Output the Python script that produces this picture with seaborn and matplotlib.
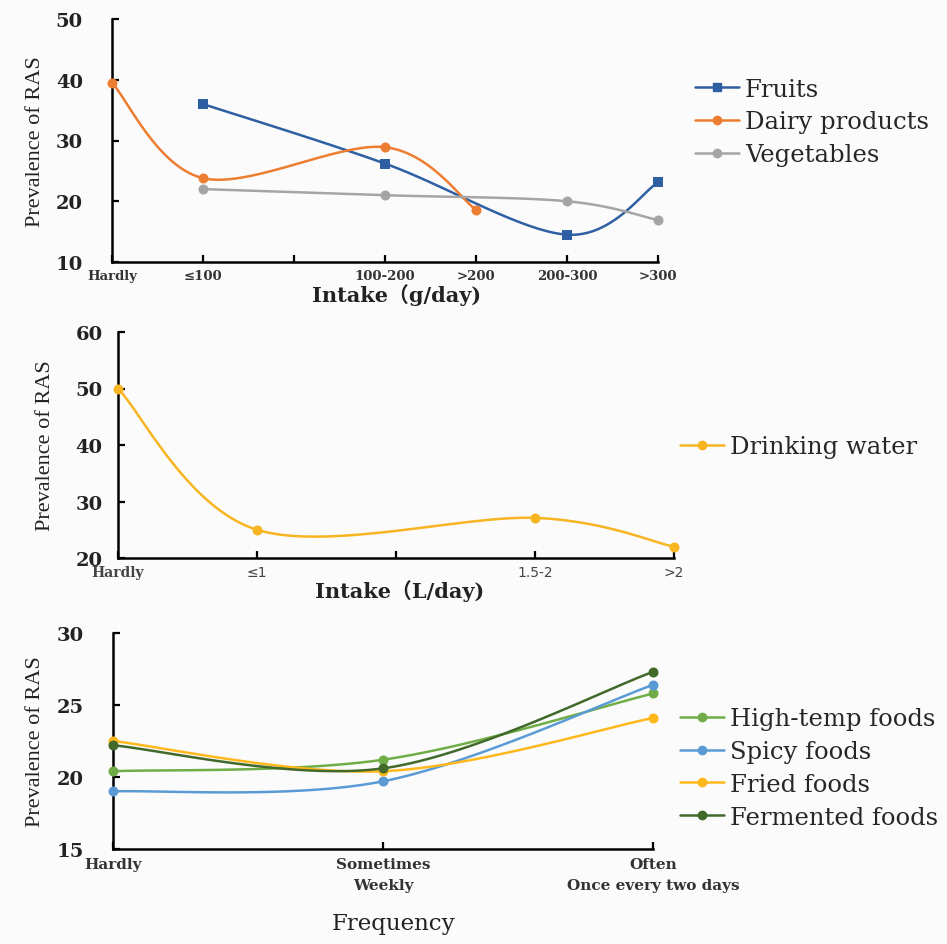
import numpy as np
import pandas as pd
import matplotlib
matplotlib.use("Agg")
import matplotlib.pyplot as plt
from matplotlib.lines import Line2D
import seaborn as sns

# -----------------------------
# Data
# -----------------------------
# Panel 1: food intake (g/day)
intake_g_labels = ['Hardly', '≤100', '', '100-200', '>200', '200-300', '>300']
fruits_pos = [1, 3, 5, 6]
fruits_vals = [36.0, 26.2, 14.5, 23.1]
dairy_pos = [0, 1, 3, 4]
dairy_vals = [39.5, 23.8, 28.9, 18.6]
veg_pos = [1, 3, 5, 6]
veg_vals = [22.0, 21.0, 20.0, 16.9]

# Panel 2: drinking water (L/day)
intake_l_labels = ['Hardly', '≤1', '', '1.5-2', '>2']
water_pos = [0, 1, 3, 4]
water_vals = [50.0, 25.0, 27.1, 22.0]

# Panel 3: frequency of special foods
freq_labels = ['Hardly', 'Sometimes\nWeekly', 'Often\nOnce every two days']
freq_pos = [0, 1, 2]
hightemp_vals = [20.4, 21.2, 25.8]
spicy_vals = [19.0, 19.7, 26.4]
fried_vals = [22.5, 20.4, 24.1]
fermented_vals = [22.2, 20.6, 27.3]

# colours (Excel-like palette)
C_FRUIT = '#2E5FA3'
C_DAIRY = '#ED7D31'
C_VEG = '#A5A5A5'
C_WATER = '#F7B522'
C_HIGH = '#70AD47'
C_SPICY = '#5B9BD5'
C_FRIED = '#FFB81C'
C_FERM = '#41692A'


def smooth(xs, ys, n=40):
    # Excel-style smoothed line (cubic Bezier with Catmull-Rom control points)
    p = np.column_stack([xs, ys]).astype(float)
    p_ext = np.vstack([p[0], p, p[-1]])
    out = []
    for i in range(len(p) - 1):
        a, b, c, d = p_ext[i], p_ext[i + 1], p_ext[i + 2], p_ext[i + 3]
        c1 = b + (c - a) / 6
        c2 = c - (d - b) / 6
        t = np.linspace(0, 1, n)[:, None]
        seg = (1 - t) ** 3 * b + 3 * (1 - t) ** 2 * t * c1 + 3 * (1 - t) * t ** 2 * c2 + t ** 3 * c
        out.append(seg if i == 0 else seg[1:])
    out = np.vstack(out)
    return pd.DataFrame({'x': out[:, 0], 'y': out[:, 1]})


def draw_series(ax, xs, ys, color, marker='o', ms=52):
    curve = smooth(xs, ys)
    sns.lineplot(data=curve, x='x', y='y', sort=False, color=color, lw=1.8,
                 ax=ax, legend=False, clip_on=False)
    sns.scatterplot(x=xs, y=ys, color=color, marker=marker, s=ms, edgecolor=color,
                    linewidth=0, ax=ax, legend=False, clip_on=False, zorder=5)


def style_axes(ax, ylim, yticks, ypad):
    ax.set_ylim(*ylim)
    ax.set_yticks(yticks)
    sns.despine(ax=ax)
    for s in ['left', 'bottom']:
        ax.spines[s].set_linewidth(1.8)
        ax.spines[s].set_color('black')
    ax.tick_params(axis='both', direction='in', length=5, width=1.6, color='black')
    ax.tick_params(axis='y', pad=ypad, labelsize=14)
    for t in ax.get_yticklabels():
        t.set_fontweight('bold')
        t.set_family('DejaVu Serif')
        t.set_color('#222222')
    ax.set_facecolor('none')


sns.set_theme(style='ticks')
plt.rcParams['font.family'] = ['DejaVu Serif', 'Noto Sans CJK SC']

BG = '#fbfbfb'
fig = plt.figure(figsize=(9.47, 9.45), dpi=100, facecolor=BG)
W, H = 947, 945

def add_axes(l, r, t, b):
    return fig.add_axes([l / W, 1 - b / H, (r - l) / W, (b - t) / H])

leg_kw = dict(frameon=False, borderpad=0, borderaxespad=0, handlelength=1.8,
              handletextpad=0.25, labelspacing=0.4, loc='center left',
              bbox_transform=fig.transFigure,
              prop={'family': 'DejaVu Serif', 'size': 17.5})

# -----------------------------
# Panel 1
# -----------------------------
ax1 = add_axes(112, 658, 20, 263)
draw_series(ax1, fruits_pos, fruits_vals, C_FRUIT, marker='s', ms=46)
draw_series(ax1, dairy_pos, dairy_vals, C_DAIRY)
draw_series(ax1, veg_pos, veg_vals, C_VEG)
ax1.set_xlim(0, 6)
ax1.set_xticks(range(len(intake_g_labels)))
ax1.set_xticklabels(intake_g_labels, fontsize=9.5, fontweight='bold', color='#333333')
ax1.tick_params(axis='x', pad=5)
style_axes(ax1, (10, 50), [10, 20, 30, 40, 50], 21)
ax1.set_xlabel('Intake（g/day)', fontsize=15, fontweight='bold',
               family=['DejaVu Serif', 'Noto Sans CJK SC'], color='#222222')
ax1.xaxis.set_label_coords(0.522, -0.088)
ax1.set_ylabel('Prevalence of RAS', fontsize=16, family='Liberation Serif', va='center',
               color='#222222')
ax1.yaxis.set_label_coords(-0.141, 0.5)
h1 = [Line2D([], [], color=C_FRUIT, marker='s', ms=6, lw=1.8),
      Line2D([], [], color=C_DAIRY, marker='o', ms=6, lw=1.8),
      Line2D([], [], color=C_VEG, marker='o', ms=6, lw=1.8)]
ax1.legend(h1, ['Fruits', 'Dairy products', 'Vegetables'],
           bbox_to_anchor=(695 / W, 1 - 123 / H), **leg_kw)

# -----------------------------
# Panel 2
# -----------------------------
ax2 = add_axes(118, 674, 333, 559)
draw_series(ax2, water_pos, water_vals, C_WATER)
ax2.set_xlim(0, 4)
ax2.set_xticks(range(len(intake_l_labels)))
ax2.set_xticklabels(intake_l_labels, fontsize=10, color='#444444')
for i, t in enumerate(ax2.get_xticklabels()):
    if i == 0:
        t.set_fontweight('bold')
    else:
        t.set_family('DejaVu Sans')
ax2.tick_params(axis='x', pad=5)
style_axes(ax2, (20, 60), [20, 30, 40, 50, 60], 11)
ax2.set_xlabel('Intake（L/day)', fontsize=15, fontweight='bold',
               family=['DejaVu Serif', 'Noto Sans CJK SC'], color='#222222')
ax2.xaxis.set_label_coords(0.507, -0.095)
ax2.set_ylabel('Prevalence of RAS', fontsize=16, family='Liberation Serif', va='center',
               color='#222222')
ax2.yaxis.set_label_coords(-0.131, 0.5)
h2 = [Line2D([], [], color=C_WATER, marker='o', ms=6, lw=1.8)]
ax2.legend(h2, ['Drinking water'], bbox_to_anchor=(680 / W, 1 - 448 / H), **leg_kw)

# -----------------------------
# Panel 3
# -----------------------------
ax3 = add_axes(113, 653, 634, 850)
draw_series(ax3, freq_pos, hightemp_vals, C_HIGH)
draw_series(ax3, freq_pos, spicy_vals, C_SPICY)
draw_series(ax3, freq_pos, fried_vals, C_FRIED)
draw_series(ax3, freq_pos, fermented_vals, C_FERM)
ax3.set_xlim(0, 2)
ax3.set_xticks(freq_pos)
ax3.set_xticklabels(freq_labels, fontsize=11, fontweight='bold', color='#333333',
                    linespacing=1.6, va='top')
ax3.tick_params(axis='x', pad=6)
style_axes(ax3, (15, 30), [15, 20, 25, 30], 21)
ax3.set_xlabel('Frequency', fontsize=16.5, color='#222222')
ax3.xaxis.set_label_coords(0.519, -0.29)
ax3.set_ylabel('Prevalence of RAS', fontsize=16, family='Liberation Serif', va='center',
               color='#222222')
ax3.yaxis.set_label_coords(-0.144, 0.5)
h3 = [Line2D([], [], color=c, marker='o', ms=6, lw=1.8)
      for c in [C_HIGH, C_SPICY, C_FRIED, C_FERM]]
ax3.legend(h3, ['High-temp foods', 'Spicy foods', 'Fried foods', 'Fermented foods'],
           bbox_to_anchor=(680 / W, 1 - 769 / H), **leg_kw)

fig.savefig('out.png', dpi=100, facecolor=BG)
